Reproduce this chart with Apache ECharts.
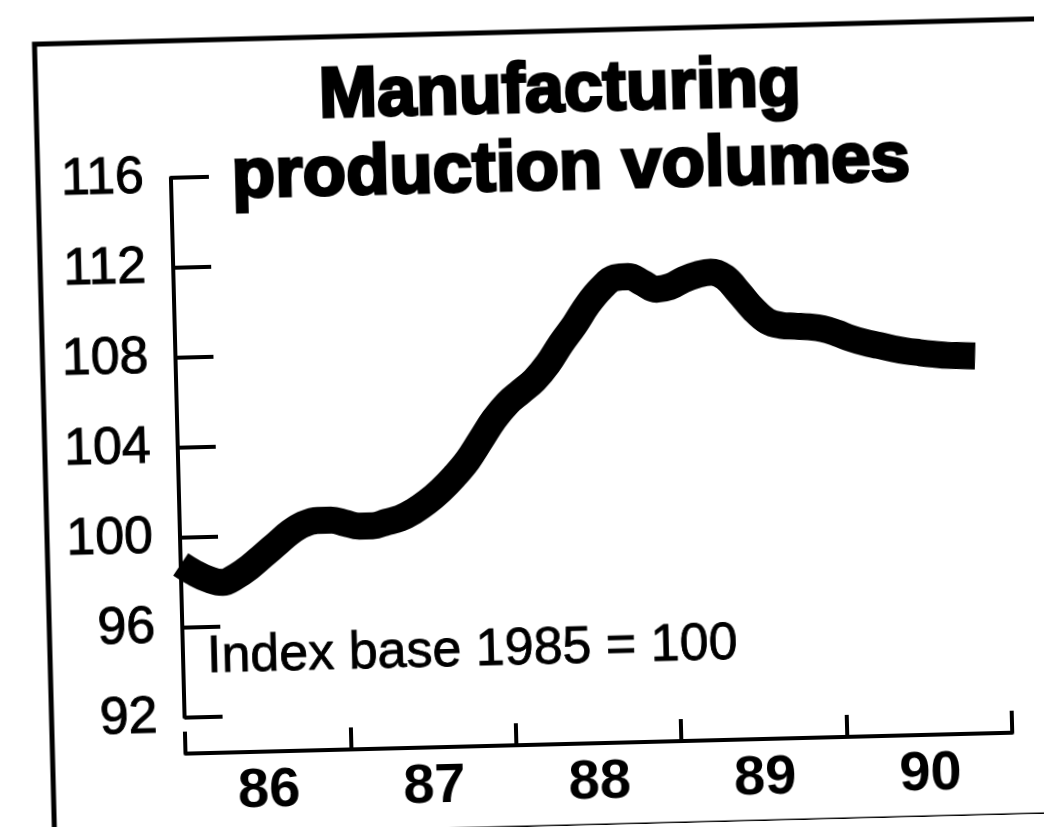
<!DOCTYPE html>
<html>
<head>
<meta charset="utf-8">
<script src="https://cdn.jsdelivr.net/npm/echarts@6/dist/echarts.min.js"></script>
<style>
  html, body { margin: 0; padding: 0; background: #ffffff; overflow: hidden; }
  #chart { width: 1044px; height: 827px; transform: rotate(-1.45deg); transform-origin: 522px 413.5px; }
</style>
</head>
<body>
<div id="chart"></div>
<script>
// Title and notes
const titleLines = ['Manufacturing', 'production volumes'];
const noteText = 'Index base 1985 = 100';

// X axis: months since Jan 1986 (0..60), year labels at mid-year
const yearLabels = ['86', '87', '88', '89', '90'];
const yearTickMonths = [0, 12, 24, 36, 48, 60];
const yearLabelMonths = [6, 18, 30, 42, 54];

// Y axis ticks
const yMin = 92, yMax = 116, yStep = 4;

// Monthly index values, Jan 1986 to Nov 1990
const values = [
  98.8, 98.4, 98.1, 97.95, 98.2, 98.6, 99.1, 99.6, 100.1, 100.45, 100.6, 100.6,
  100.45, 100.3, 100.3, 100.45, 100.6, 100.9, 101.3, 101.8, 102.4, 103.1, 104.0, 104.9,
  105.6, 106.1, 106.6, 107.3, 108.2, 109.0, 109.9, 110.6, 111.05, 111.1, 110.8, 110.5,
  110.6, 110.9, 111.1, 111.2, 110.95, 110.25, 109.5, 108.95, 108.75, 108.7, 108.65, 108.55,
  108.35, 108.1, 107.9, 107.75, 107.6, 107.47, 107.38, 107.3, 107.23, 107.2, 107.17
];

const chart = echarts.init(document.getElementById('chart'), null, { renderer: 'canvas' });

const option = {
  backgroundColor: '#ffffff',
  animation: false,
  grid: { left: 177, right: 40, top: 169, bottom: 118.5, containLabel: false },
  xAxis: {
    type: 'value',
    min: 0,
    max: 60,
    interval: 6,
    offset: 36.5,
    axisLine: { show: true, lineStyle: { color: '#000', width: 4 } },
    axisTick: {
      show: true, inside: true, length: 22,
      customValues: yearTickMonths,
      lineStyle: { color: '#000', width: 4 }
    },
    axisLabel: {
      show: true,
      customValues: yearLabelMonths,
      margin: 12,
      color: '#000',
      fontFamily: '"Liberation Sans Narrow", "Liberation Sans", Arial, sans-serif',
      fontWeight: 'bold',
      fontSize: 56,
      formatter: function (v) {
        const i = yearLabelMonths.indexOf(Math.round(v));
        return i >= 0 ? yearLabels[i] : '';
      }
    },
    splitLine: { show: false }
  },
  yAxis: {
    type: 'value',
    min: yMin,
    max: yMax,
    interval: yStep,
    axisLine: { show: true, lineStyle: { color: '#000', width: 4 } },
    axisTick: { show: true, inside: true, length: 38, lineStyle: { color: '#000', width: 4 } },
    axisLabel: {
      show: true,
      margin: 27,
      color: '#000',
      fontFamily: '"Liberation Sans", Arial, sans-serif',
      fontSize: 52,
      textBorderColor: '#000',
      textBorderWidth: 1,
      formatter: function (v) { return String(v); }
    },
    splitLine: { show: false }
  },
  graphic: [
    {
      type: 'rect',
      shape: { x: 44, y: 32, width: 1030, height: 796 },
      style: { fill: 'none', stroke: '#000', lineWidth: 5 },
      silent: true, z: 0
    },
    {
      type: 'text',
      x: 568, y: 93,
      style: {
        text: titleLines[0],
        font: 'bold 70px "Liberation Sans", Arial, sans-serif',
        fill: '#000', stroke: '#000', lineWidth: 3,
        textAlign: 'center', textVerticalAlign: 'middle'
      },
      z: 10
    },
    {
      type: 'text',
      x: 577, y: 170,
      style: {
        text: titleLines[1],
        font: 'bold 71px "Liberation Sans", Arial, sans-serif',
        fill: '#000', stroke: '#000', lineWidth: 3,
        textAlign: 'center', textVerticalAlign: 'middle'
      },
      z: 10
    },
    {
      type: 'text',
      x: 201, y: 650,
      style: {
        text: noteText,
        font: '52px "Liberation Sans", Arial, sans-serif',
        fill: '#000', stroke: '#000', lineWidth: 0.8,
        textAlign: 'left', textVerticalAlign: 'middle'
      },
      z: 10
    }
  ],
  series: [
    {
      type: 'line',
      data: values.map(function (v, i) { return [i, v]; }),
      smooth: 0.4,
      showSymbol: false,
      symbol: 'none',
      clip: false,
      lineStyle: { color: '#000', width: 27, cap: 'butt', join: 'round' }
    }
  ]
};

chart.setOption(option);
</script>
</body>
</html>
